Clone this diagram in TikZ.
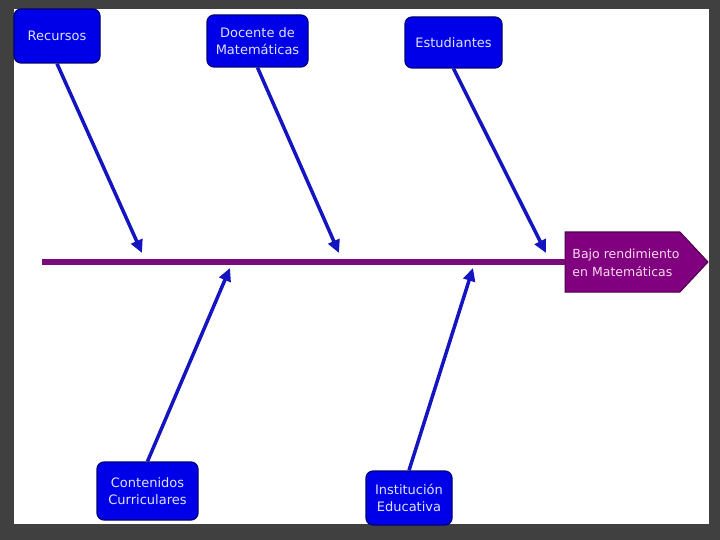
\documentclass[tikz,border=0pt]{standalone}
\usepackage{fontspec}
\setmainfont{DejaVu Sans}
\usetikzlibrary{arrows.meta}
\definecolor{bg}{HTML}{404040}
\definecolor{boxblue}{HTML}{0000E8}
\definecolor{boxedge}{HTML}{00007A}
\definecolor{arrblue}{HTML}{1414C0}
\definecolor{spine}{HTML}{7A0A7A}
\definecolor{effect}{HTML}{800080}
\definecolor{effedge}{HTML}{4A004A}
\tikzset{
  cause/.style={draw=boxedge, line width=1.2pt, fill=boxblue, rounded corners=7pt,
    text=white!88!blue, font=\fontsize{13}{17.5}\selectfont, align=center, inner sep=0pt},
  bone/.style={draw=arrblue, line width=3.5pt, -{Triangle[length=13pt,width=12pt]}},
}
\begin{document}
\begin{tikzpicture}[x=1pt,y=-1pt]
\useasboundingbox (0,0) rectangle (720,540);
\fill[bg] (0,0) rectangle (720,540);
\fill[white] (14,9) rectangle (709,524);
% effect
\draw[effedge, line width=1pt, fill=effect] (565,232) -- (680,232) -- (708,262) -- (680,292) -- (565,292) -- cycle;
\node[text=white!85!magenta, font=\fontsize{12.5}{17.5}\selectfont, align=left, inner sep=0pt] (eff) at (626,263)
  {Bajo rendimiento\\en Matemáticas};
\coordinate (effin) at (565,262);
% spine
\draw[spine, line width=5.5pt] (42,262) -- (effin);
% causes
\node[cause, minimum width=86pt, minimum height=54pt] (rec) at (57,36) {Recursos};
\node[cause, minimum width=101pt, minimum height=52pt] (doc) at (257.5,41) {Docente de\\Matemáticas};
\node[cause, minimum width=97pt, minimum height=51pt] (est) at (453.5,42.5) {Estudiantes};
\node[cause, minimum width=101pt, minimum height=58pt] (con) at (147.5,491) {Contenidos\\Curriculares};
\node[cause, minimum width=86pt, minimum height=54pt] (ins) at (409,498) {Institución\\Educativa};
% bone end points
\coordinate (r1) at (142,253);
\coordinate (d1) at (339,253);
\coordinate (e1) at (546,253);
\coordinate (c1) at (230,268);
\coordinate (i1) at (473,268);
\draw[bone] (rec.south) -- (r1);
\draw[bone] (doc.south) -- (d1);
\draw[bone] (est.south) -- (e1);
\draw[bone] (con.north) -- (c1);
\draw[bone] (ins.north) -- (i1);
\end{tikzpicture}
\end{document}
